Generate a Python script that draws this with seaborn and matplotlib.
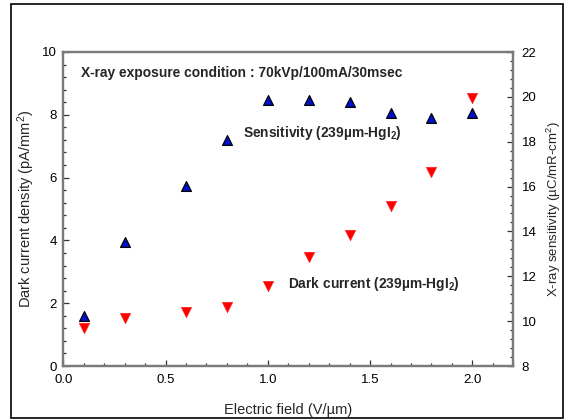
import matplotlib
matplotlib.use("Agg")
import matplotlib.pyplot as plt
from matplotlib.patches import Rectangle
from matplotlib.ticker import MultipleLocator
import seaborn as sns
import pandas as pd

# ---- data ----
electric_field = [0.1, 0.3, 0.6, 0.8, 1.0, 1.2, 1.4, 1.6, 1.8, 2.0]
dark_current = [1.20, 1.52, 1.73, 1.89, 2.55, 3.48, 4.17, 5.10, 6.18, 8.54]
sensitivity = [10.23, 13.54, 16.04, 18.06, 19.88, 19.88, 19.76, 19.26, 19.06, 19.26]
x_ticks = [0.0, 0.5, 1.0, 1.5, 2.0]
x_tick_labels = ["0.0", "0.5", "1.0", "1.5", "2.0"]
left_ticks = [0, 2, 4, 6, 8, 10]
right_ticks = [8, 10, 12, 14, 16, 18, 20, 22]

sns.set_style("ticks")
plt.rcParams["font.family"] = ["Liberation Sans", "DejaVu Sans"]
plt.rcParams["mathtext.fontset"] = "custom"
plt.rcParams["mathtext.rm"] = "Liberation Sans"
plt.rcParams["mathtext.it"] = "Liberation Sans:italic"
plt.rcParams["mathtext.bf"] = "Liberation Sans:bold"

df = pd.DataFrame({"field": electric_field, "dark": dark_current, "sens": sensitivity})

fig = plt.figure(figsize=(5.69, 4.19), dpi=100)
ax = fig.add_axes([63.3 / 569, 1 - 366 / 419, 450 / 569, 314 / 419])
ax2 = ax.twinx()

sns.scatterplot(data=df, x="field", y="dark", ax=ax, marker="v", color="#ff0000",
                edgecolor="#ff2020", linewidth=0.5, s=55, zorder=3, legend=False)
sns.scatterplot(data=df, x="field", y="sens", ax=ax2, marker="^", color="#0010d0",
                edgecolor="black", linewidth=0.9, s=50, zorder=3, legend=False)

ax.set_xlim(0, 2.2)
ax.set_ylim(0, 10)
ax2.set_ylim(8, 22)
ax.set_xticks(x_ticks)
ax.set_xticklabels(x_tick_labels)
ax.set_yticks(left_ticks)
ax2.set_yticks(right_ticks)
ax.xaxis.set_minor_locator(MultipleLocator(0.1))
ax.yaxis.set_minor_locator(MultipleLocator(0.4))
ax2.yaxis.set_minor_locator(MultipleLocator(0.4))

for a in (ax, ax2):
    for sp in a.spines.values():
        sp.set_visible(True)
        sp.set_color("#7a7a7a")
        sp.set_linewidth(1.6)
    a.tick_params(which="both", direction="in", colors="#333333", labelcolor="black",
                  labelsize=9.5, width=0.9)
    a.tick_params(which="major", length=4)
    a.tick_params(which="minor", length=2.5)
ax.tick_params(axis="x", which="both", top=False, pad=6)
ax.tick_params(axis="y", which="both", right=False, pad=4.5)
ax2.tick_params(axis="y", which="both", left=False, pad=6)

ax.set_xlabel("Electric field (V/µm)", fontsize=10.5, labelpad=12)
ax.set_ylabel("Dark current density (pA/mm$^2$)", fontsize=10.5, labelpad=4)
ax2.set_ylabel("X-ray sensitivity (µC/mR-cm$^2$)", fontsize=9.5, labelpad=6)

ax.text(0.086, 9.34, "X-ray exposure condition : 70kVp/100mA/30msec",
        fontsize=9.9, fontweight="bold", va="center", ha="left")
ax.text(0.877, 7.41, r"Sensitivity (239µm-HgI$_\mathbf{2}$)",
        fontsize=9.9, fontweight="bold", va="center", ha="left")
ax.text(1.10, 2.61, r"Dark current (239µm-HgI$_\mathbf{2}$)",
        fontsize=9.9, fontweight="bold", va="center", ha="left")

fig.patches.append(Rectangle((11 / 569, 1 - 418 / 419), 552 / 569, 414 / 419,
                             transform=fig.transFigure, fill=False,
                             edgecolor="black", linewidth=1.2))

fig.savefig("out.png", dpi=100)
